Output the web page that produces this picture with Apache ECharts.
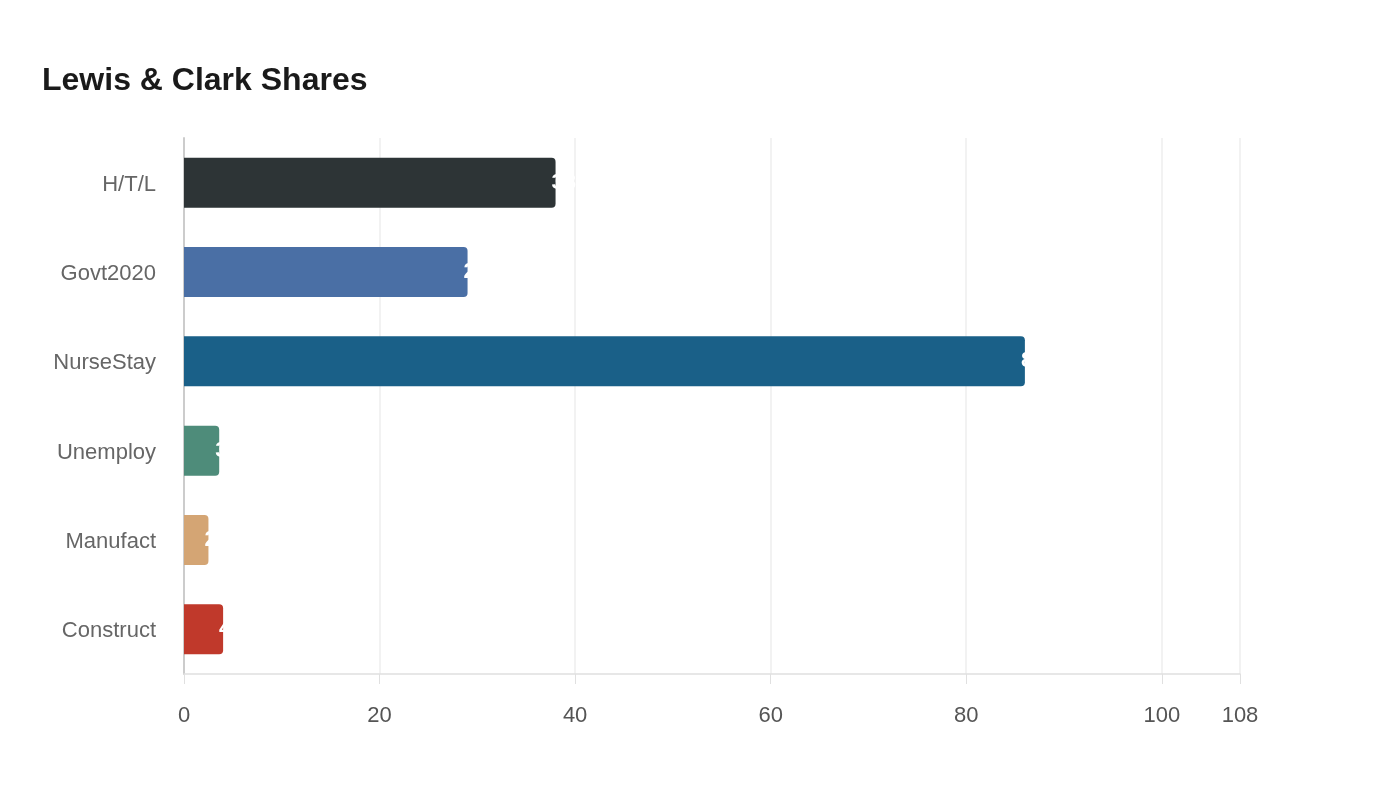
<!DOCTYPE html>
<html><head><meta charset="utf-8">
<script src="https://cdn.jsdelivr.net/npm/echarts@6/dist/echarts.min.js"></script>
<style>html,body{margin:0;padding:0;background:#fff}#c{width:1400px;height:800px}</style>
</head><body><div id="c"></div>
<script>
const categories = ['H/T/L','Govt2020','NurseStay','Unemploy','Manufact','Construct'];
const values = [38, 29, 86, 3.6, 2.5, 4];
const colors = ['#2d3436','#4a6fa5','#1a6088','#4e8c7a','#d4a574','#c0392b'];
const xMax = 108;
const FF = "'Liberation Sans', Arial, sans-serif";

const chart = echarts.init(document.getElementById('c'));
chart.setOption({
  backgroundColor: '#fff',
  textStyle: { fontFamily: FF },
  title: {
    text: 'Lewis & Clark Shares', left: 37, top: 60,
    textStyle: { fontFamily: FF, fontSize: 32, fontWeight: 'bold', color: '#1a1a1a' }
  },
  grid: { left: 184, right: 160, top: 138, bottom: 126, containLabel: false },
  xAxis: {
    type: 'value', min: 0, max: xMax, interval: 20,
    axisLine: { show: true, lineStyle: { color: '#e0e0e0', width: 1.5 } },
    axisTick: { show: true, length: 10, lineStyle: { color: '#e0e0e0' } },
    axisLabel: { color: '#555', fontSize: 22, fontFamily: FF, margin: 31 },
    splitLine: { show: true, lineStyle: { color: '#eeeeee', width: 1.5 } }
  },
  yAxis: {
    type: 'category', data: categories, inverse: true,
    axisLine: { show: true, lineStyle: { color: '#cccccc', width: 2 } },
    axisTick: { show: false },
    axisLabel: {
      color: '#666', fontSize: 22, fontFamily: FF, margin: 28,
      formatter: v => '{a|' + v + '}',
      rich: { a: { color: '#666', fontSize: 22, fontFamily: FF, padding: [4, 0, 0, 0] } }
    }
  },
  series: [{
    type: 'bar', barWidth: 50,
    data: values.map((v, i) => ({ value: v, itemStyle: { color: colors[i] } })),
    itemStyle: { borderRadius: [0, 4, 4, 0] },
    label: { show: true, position: 'right', distance: -4, color: '#fff', fontSize: 22, fontWeight: 'bold', fontFamily: FF }
  }]
});
</script></body></html>
